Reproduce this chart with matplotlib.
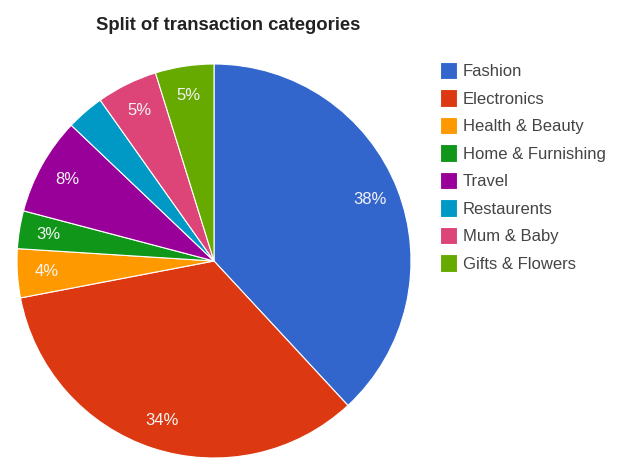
import matplotlib
matplotlib.use("Agg")
import matplotlib.pyplot as plt

# transaction share per category (%)
categories = ["Fashion", "Electronics", "Health & Beauty", "Home & Furnishing",
              "Travel", "Restaurents", "Mum & Baby", "Gifts & Flowers"]
shares = [38.1, 33.9, 4.0, 3.1, 8.0, 3.1, 5.0, 4.8]
colors = ["#3366cc", "#dc3912", "#ff9900", "#109618",
          "#990099", "#0099c6", "#dd4477", "#66aa00"]

plt.rcParams["font.family"] = ["Liberation Sans", "DejaVu Sans"]

fig = plt.figure(figsize=(6.18, 4.59), dpi=100)
W, H = 618, 459
cx, cy, r = 214, 261, 197
ax = fig.add_axes([(cx - r) / W, (H - cy - r) / H, 2 * r / W, 2 * r / H])

wedges, texts, autotexts = ax.pie(
    shares, colors=colors, startangle=90, counterclock=False,
    autopct="%.0f%%", pctdistance=0.85, radius=1.0,
    wedgeprops=dict(edgecolor="white", linewidth=0.8),
    textprops=dict(color="#f4f4f4", fontsize=12))
# no room for the restaurants label
autotexts[5].set_text("")
ax.set_xlim(-1, 1)
ax.set_ylim(-1, 1)
ax.set_aspect("equal")

fig.text(228 / W, 1 - 26 / H, "Split of transaction categories",
         ha="center", va="center", fontsize=13.3, fontweight="bold", color="#222222")

fig.legend(wedges, categories, loc="upper left",
           bbox_to_anchor=(425 / W, 1 - 47 / H), frameon=False,
           fontsize=12, handlelength=1.0, handleheight=1.2,
           handletextpad=0.38, labelspacing=0.62, labelcolor="#444444")

fig.savefig("out.png", dpi=100)
